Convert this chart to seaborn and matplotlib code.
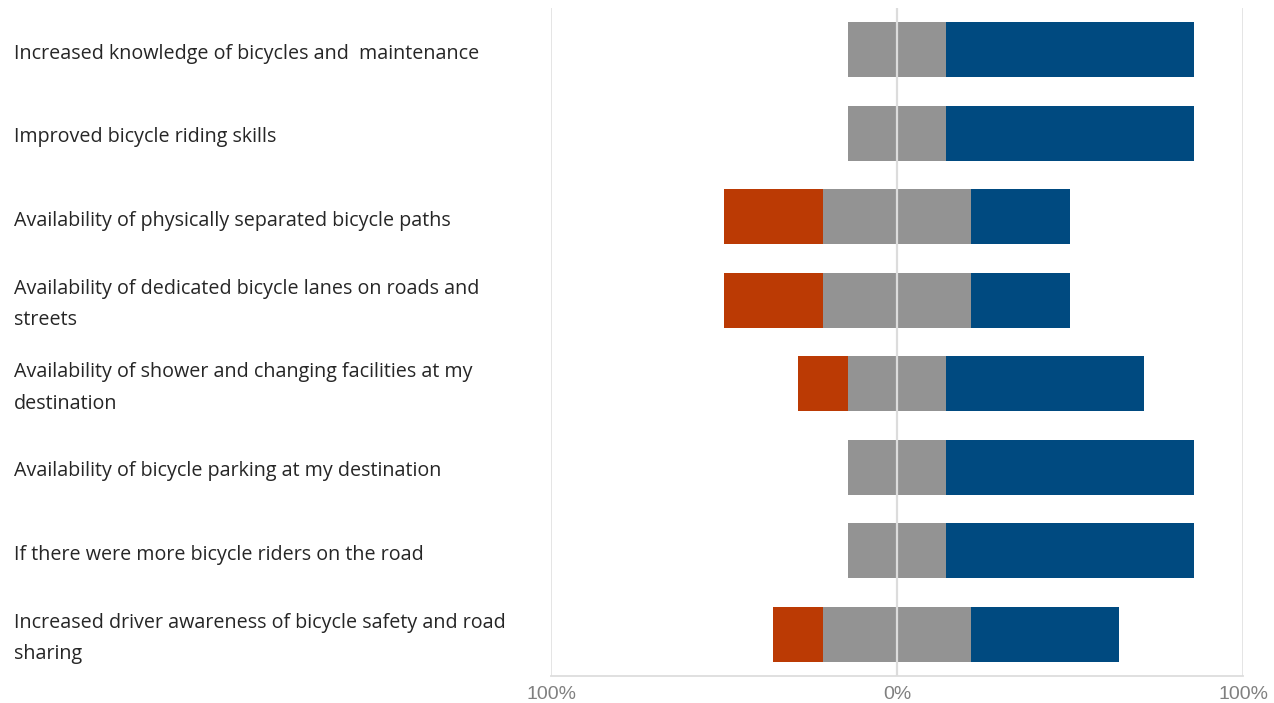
import matplotlib
matplotlib.use("Agg")
import matplotlib.pyplot as plt
import matplotlib.transforms as mtransforms
import pandas as pd
import seaborn as sns

# Survey items (top to bottom) and response shares in percent
items = [
    "Increased knowledge of bicycles and  maintenance",
    "Improved bicycle riding skills",
    "Availability of physically separated bicycle paths",
    "Availability of dedicated bicycle lanes on roads and\nstreets",
    "Availability of shower and changing facilities at my\ndestination",
    "Availability of bicycle parking at my destination",
    "If there were more bicycle riders on the road",
    "Increased driver awareness of bicycle safety and road\nsharing",
]
negative = [0.0, 0.0, 28.57, 28.57, 14.29, 0.0, 0.0, 14.29]
neutral = [28.57, 28.57, 42.86, 42.86, 28.57, 28.57, 28.57, 42.86]
positive = [71.43, 71.43, 28.57, 28.57, 57.14, 71.43, 71.43, 42.86]

tick_values = [-100, 0, 100]
tick_labels = ["100%", "0%", "100%"]

RED = "#BB3A04"
GRAY = "#939393"
BLUE = "#004A80"

df = pd.DataFrame({"item": items, "neg": negative, "neu": neutral, "pos": positive})
df["right_total"] = df["neu"] / 2 + df["pos"]
df["left_total"] = -(df["neu"] / 2 + df["neg"])
df["right_neu"] = df["neu"] / 2
df["left_neu"] = -df["neu"] / 2

sns.set_theme(style="white")
plt.rcParams["font.family"] = ["Open Sans", "DejaVu Sans"]

fig = plt.figure(figsize=(12.74, 7.03), dpi=100)
ax = fig.add_axes([551 / 1274, 1 - 676 / 703, (1243 - 551) / 1274, (676 - 8) / 703])

bar_kw = dict(orient="h", order=items, width=0.655, linewidth=0, ax=ax, zorder=2)
# Each half of the diverging bar: the outer segment drawn first, neutral half on top
sns.barplot(data=df, x="right_total", y="item", color=BLUE, saturation=1, **bar_kw)
sns.barplot(data=df, x="left_total", y="item", color=RED, saturation=1, **bar_kw)
sns.barplot(data=df, x="right_neu", y="item", color=GRAY, saturation=1, **bar_kw)
sns.barplot(data=df, x="left_neu", y="item", color=GRAY, saturation=1, **bar_kw)

ax.set_xlim(-100, 100)
ax.set_ylim(len(items) - 0.5, -0.5)

# Vertical guides at -100, 0 and 100
for v in (-100, 100):
    ax.axvline(v, color="#e3e3e3", lw=1.3, zorder=1)
ax.axvline(0, color="#dcdcdc", lw=1.6, zorder=3)

for side in ("top", "right", "left"):
    ax.spines[side].set_visible(False)
ax.spines["bottom"].set_color("#dddddd")
ax.spines["bottom"].set_linewidth(1.3)

ax.set_xticks(tick_values)
ax.set_xticklabels(tick_labels, color="#808080", fontsize=14,
                   family=["Liberation Sans", "DejaVu Sans"])
ax.tick_params(axis="x", length=0, pad=7)
ax.set_yticks([])
ax.set_xlabel("")
ax.set_ylabel("")

# Category labels, left aligned at the figure edge
trans = mtransforms.blended_transform_factory(fig.transFigure, ax.transData)
for i, label in enumerate(items):
    ax.text(14 / 1274, i + 0.05, label, transform=trans, ha="left", va="center",
            fontsize=14.2, color="#262626", linespacing=1.78, clip_on=False)

fig.savefig("out.png", dpi=100, facecolor="white")
